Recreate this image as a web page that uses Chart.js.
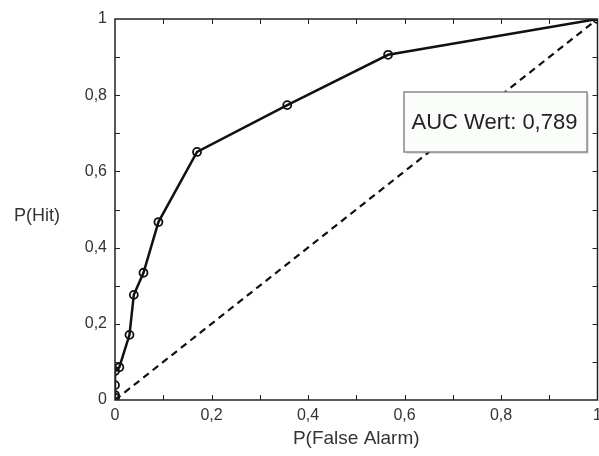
<!DOCTYPE html>
<html>
<head>
<meta charset="utf-8">
<script src="https://cdn.jsdelivr.net/npm/chart.js@4"></script>
<style>
  body { margin: 0; background: #fff; overflow: hidden; }
  #wrap { width: 599px; height: 456px; }
</style>
</head>
<body>
<div id="wrap"><canvas id="roc"></canvas></div>
<script>
// ROC Kurve Werte
var falseAlarm = [0, 0, 0, 0, 0.009, 0.03, 0.039, 0.059, 0.09, 0.17, 0.357, 0.566, 1]
var hit        = [0.006, 0.013, 0.039, 0.076, 0.086, 0.171, 0.276, 0.334, 0.467, 0.651, 0.774, 0.906, 1]
var diagX = [0, 1]
var diagY = [0, 1]
var aucText = "AUC Wert: 0,789"
var yTitle = "P(Hit)"
var xTitle = "P(False Alarm)"

var fonte = "'Liberation Sans', Arial, sans-serif"

var punkte = falseAlarm.map(function(x, i){ return {x: x, y: hit[i]} })
var diagonale = diagX.map(function(x, i){ return {x: x, y: diagY[i]} })

function komma(v){
    var r = Math.round(v * 10) / 10
    if (Math.round(r * 10) % 2 != 0) return ""
    return String(r).replace(".", ",")
}

// kleine Striche nach innen + Rahmen + Textbox
var extras = {
    id: "extras",
    afterDraw: function(chart){
        var ctx = chart.ctx
        var a = chart.chartArea
        var xs = chart.scales.x
        var ys = chart.scales.y
        ctx.save()
        ctx.strokeStyle = "#222"
        ctx.lineWidth = 1
        ctx.beginPath()
        for (var i = 1; i < 10; i++) {
            var px = Math.round(xs.getPixelForValue(i / 10)) + 0.5
            ctx.moveTo(px, a.bottom); ctx.lineTo(px, a.bottom - 5)
            ctx.moveTo(px, a.top); ctx.lineTo(px, a.top + 5)
            var py = Math.round(ys.getPixelForValue(i / 10)) + 0.5
            ctx.moveTo(a.left, py); ctx.lineTo(a.left + 5, py)
            ctx.moveTo(a.right, py); ctx.lineTo(a.right - 5, py)
        }
        ctx.stroke()
        ctx.lineWidth = 1.5
        ctx.strokeRect(a.left, a.top, a.right - a.left, a.bottom - a.top)

        // AUC Box
        var bx = 404, by = 92, bw = 183, bh = 60
        ctx.fillStyle = "rgba(0,0,0,0.12)"
        ctx.fillRect(bx + 2, by + 2, bw, bh)
        ctx.fillStyle = "#fbfdfb"
        ctx.fillRect(bx, by, bw, bh)
        ctx.strokeStyle = "#888"
        ctx.lineWidth = 1.5
        ctx.strokeRect(bx, by, bw, bh)
        ctx.fillStyle = "#222"
        ctx.font = "22px " + fonte
        ctx.textAlign = "center"
        ctx.textBaseline = "middle"
        ctx.fillText(aucText, bx + bw / 2 - 1, by + bh / 2 + 1)

        // y Titel horizontal
        ctx.font = "18px " + fonte
        ctx.fillStyle = "#333"
        ctx.fillText(yTitle, 37, 216)
        ctx.restore()
    }
}

new Chart(document.getElementById("roc"), {
    type: "scatter",
    data: {
        datasets: [{
            data: diagonale,
            showLine: true,
            borderColor: "#111",
            borderWidth: 2.2,
            borderDash: [7, 5],
            pointRadius: 0
        }, {
            data: punkte,
            showLine: true,
            borderColor: "#111",
            borderWidth: 2.5,
            pointRadius: 4,
            pointBorderWidth: 1.8,
            pointBorderColor: "#111",
            pointBackgroundColor: "rgba(0,0,0,0)"
        }]
    },
    options: {
        responsive: true,
        maintainAspectRatio: false,
        animation: false,
        layout: { autoPadding: false, padding: { top: 19, right: 1.5, left: 0, bottom: 2 } },
        plugins: { legend: { display: false }, tooltip: { enabled: false } },
        scales: {
            x: {
                type: "linear", min: 0, max: 1,
                grid: { display: false, drawTicks: false },
                border: { display: false },
                ticks: { stepSize: 0.1, callback: komma, color: "#333", font: { family: fonte, size: 16 }, padding: 6, maxRotation: 0, autoSkip: false },
                title: { display: true, text: xTitle, color: "#333", font: { family: fonte, size: 19 }, padding: { top: 7 } },
                afterFit: function(s){ s.height = 54; s.paddingLeft = 0; s.paddingRight = 0 }
            },
            y: {
                type: "linear", min: 0, max: 1,
                grid: { display: false, drawTicks: false },
                border: { display: false },
                ticks: { stepSize: 0.1, callback: komma, color: "#333", font: { family: fonte, size: 16 }, padding: 8 },
                afterFit: function(s){ s.width = 115; s.paddingTop = 0; s.paddingBottom = 0 }
            }
        }
    },
    plugins: [extras]
})
</script>
</body>
</html>
